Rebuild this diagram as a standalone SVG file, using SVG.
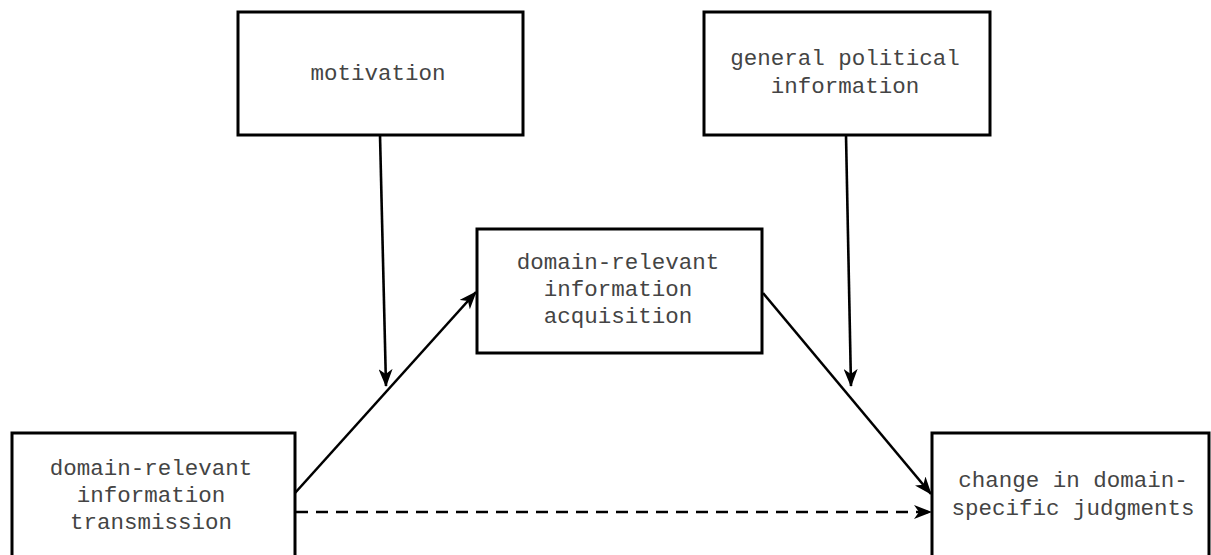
<svg xmlns="http://www.w3.org/2000/svg" width="1211" height="555" viewBox="0 0 1211 555">
<style>
.box{fill:#fff;stroke:#000;stroke-width:3}
.lbl{font-family:"Liberation Mono","Courier New",monospace;font-size:22.5px;fill:#444;text-anchor:middle}
.conn{stroke:#000;stroke-width:2.6;fill:none}
.dash{stroke-dasharray:12,8}
</style>
<defs>
<marker id="arr" viewBox="0 0 18 14" refX="17" refY="7" markerWidth="18" markerHeight="14" markerUnits="userSpaceOnUse" orient="auto">
<path d="M0,0 L18,7 L0,14 L5,7 Z" fill="#000"/>
</marker>
</defs>
<rect width="1211" height="555" fill="#fff"/>
<g id="connectors">
<line class="conn" x1="380" y1="135" x2="386" y2="386" marker-end="url(#arr)"/>
<line class="conn" x1="846" y1="135" x2="851" y2="386" marker-end="url(#arr)"/>
<line class="conn" x1="295" y1="493" x2="476" y2="292" marker-end="url(#arr)"/>
<line class="conn" x1="763" y1="293" x2="931" y2="494" marker-end="url(#arr)"/>
<line class="conn dash" x1="296" y1="512" x2="931" y2="512" marker-end="url(#arr)"/>
</g>
<g id="motivation">
<rect class="box" x="238" y="12" width="285" height="123"/>
<text class="lbl" x="378" y="80">motivation</text>
</g>
<g id="general">
<rect class="box" x="704" y="12" width="286" height="123"/>
<text class="lbl" x="845" y="65">general political</text>
<text class="lbl" x="845" y="93">information</text>
</g>
<g id="acquisition">
<rect class="box" x="477" y="229" width="285" height="124"/>
<text class="lbl" x="618" y="269">domain-relevant</text>
<text class="lbl" x="618" y="296">information</text>
<text class="lbl" x="618" y="323">acquisition</text>
</g>
<g id="transmission">
<rect class="box" x="12" y="433" width="283" height="130"/>
<text class="lbl" x="151" y="475">domain-relevant</text>
<text class="lbl" x="151" y="502">information</text>
<text class="lbl" x="151" y="529">transmission</text>
</g>
<g id="change">
<rect class="box" x="932" y="433" width="277" height="130"/>
<text class="lbl" x="1073" y="487">change in domain-</text>
<text class="lbl" x="1073" y="515">specific judgments</text>
</g>
</svg>
